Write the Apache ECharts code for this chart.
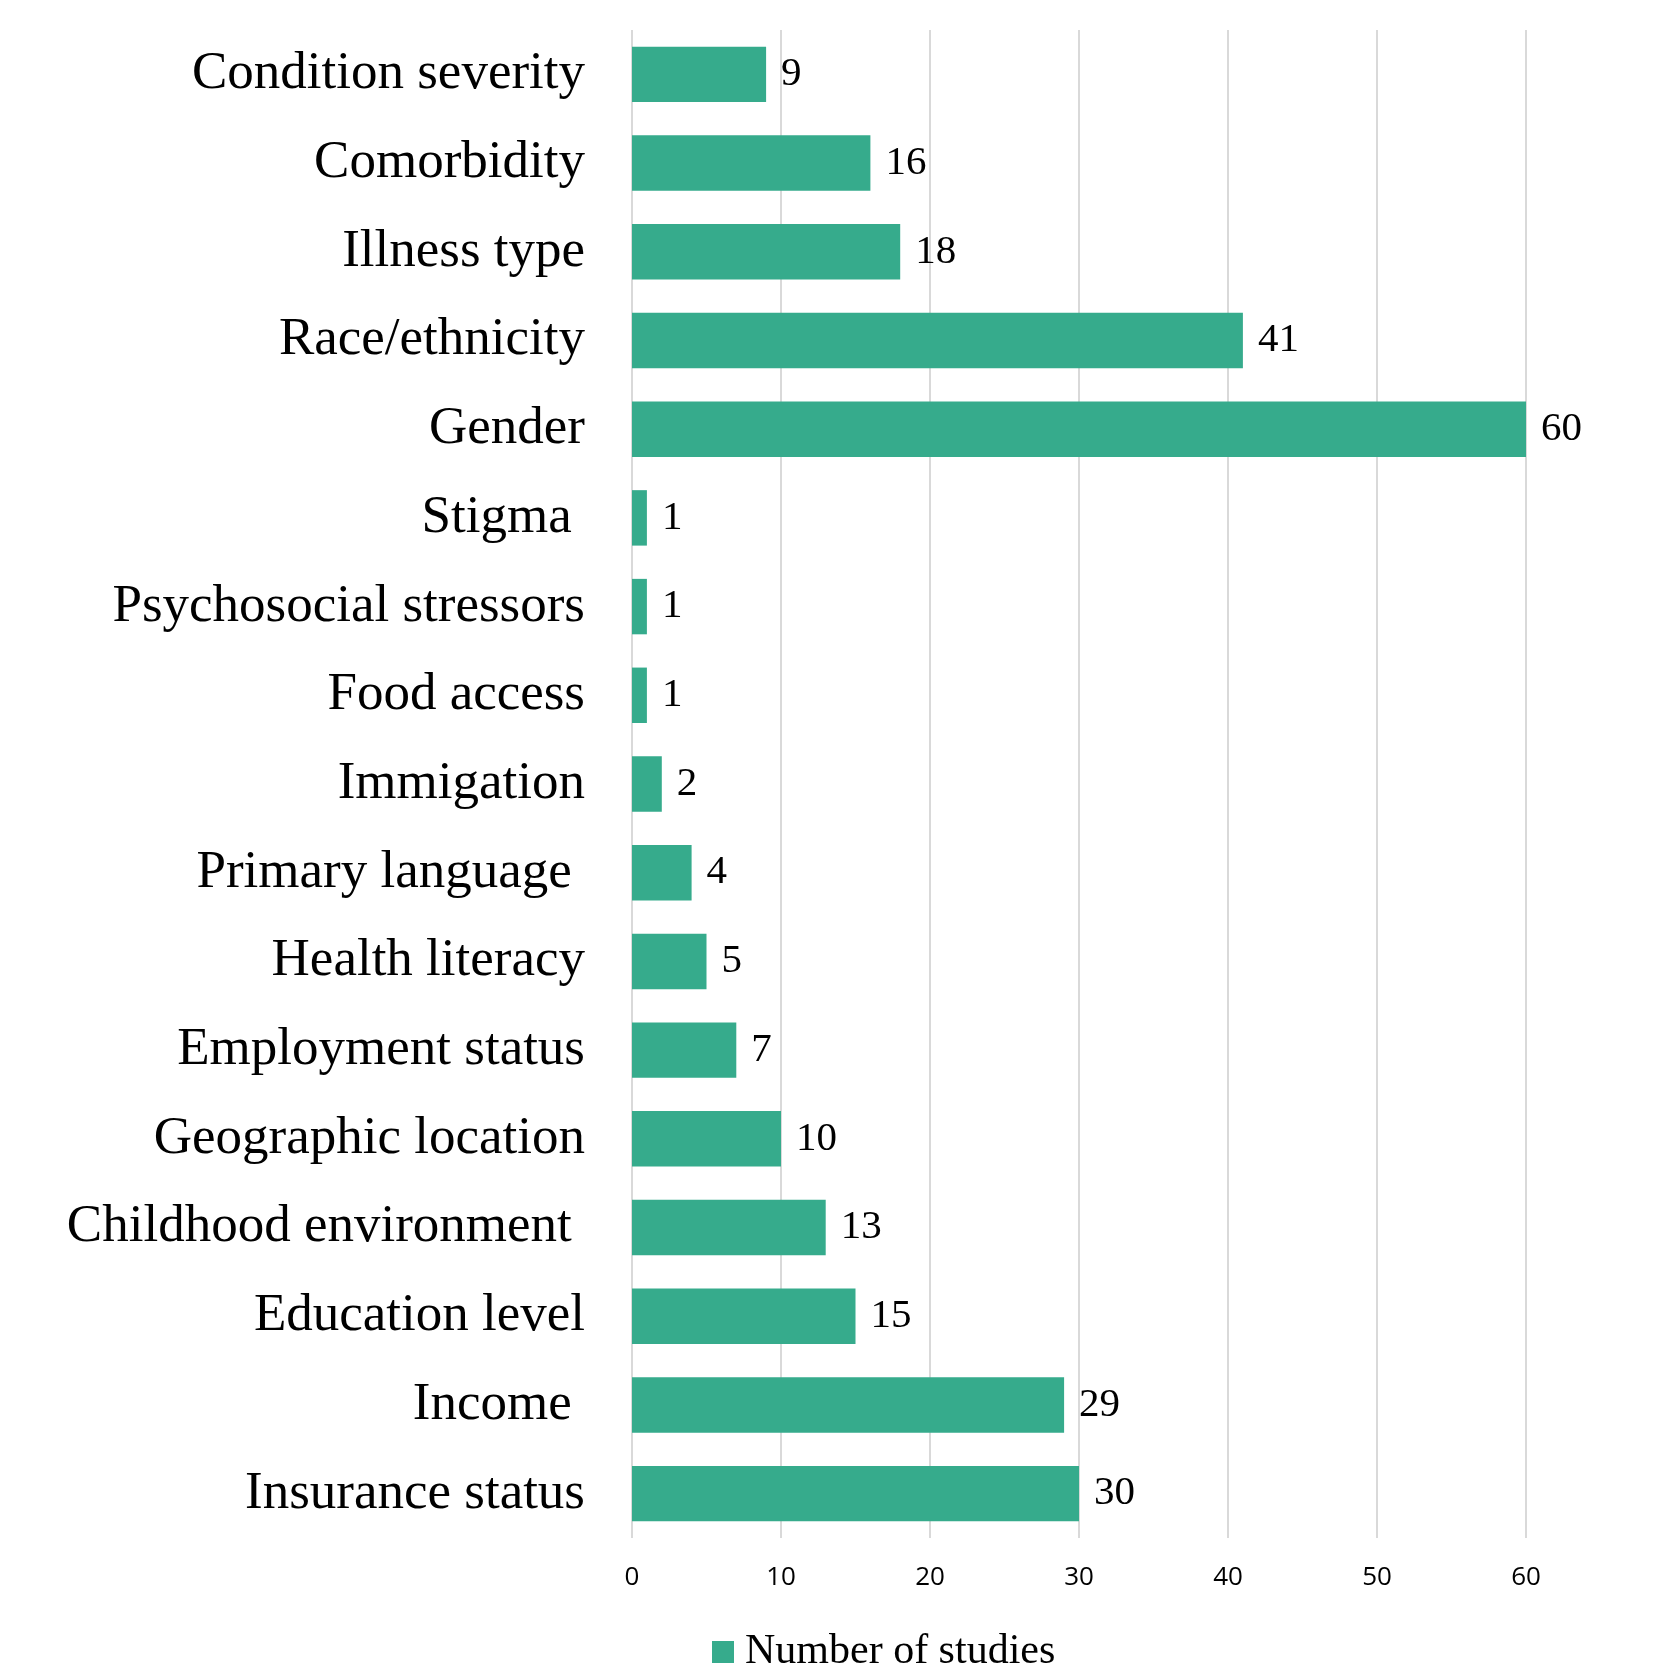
<!DOCTYPE html>
<html>
<head>
<meta charset="utf-8">
<script src="https://cdn.jsdelivr.net/npm/echarts@6/dist/echarts.min.js"></script>
<style>
html,body{margin:0;padding:0;background:#fff;}
#chart{width:1660px;height:1665px;}
</style>
</head>
<body>
<div id="chart"></div>
<script>
const categories = [
  "Condition severity", "Comorbidity", "Illness type", "Race/ethnicity", "Gender",
  "Stigma ", "Psychosocial stressors", "Food access", "Immigation", "Primary language ",
  "Health literacy", "Employment status", "Geographic location", "Childhood environment ",
  "Education level", "Income ", "Insurance status"
];
const studies = [9, 16, 18, 41, 60, 1, 1, 1, 2, 4, 5, 7, 10, 13, 15, 29, 30];
const seriesName = "Number of studies";
const xMin = 0, xMax = 70, xStep = 10;

const chart = echarts.init(document.getElementById('chart'), null, {renderer: 'canvas'});
chart.setOption({
  animation: false,
  backgroundColor: '#ffffff',
  grid: { left: 632, width: 1043, top: 30, height: 1508, containLabel: false, outerBoundsMode: 'none' },
  legend: {
    data: [seriesName],
    left: 707, top: 1626,
    itemWidth: 22, itemHeight: 22,
    icon: 'rect',
    textStyle: { fontFamily: 'Liberation Serif', fontSize: 42, color: '#000', padding: [0,0,0,6] }
  },
  xAxis: {
    type: 'value', min: xMin, max: xMax, interval: xStep,
    axisLine: { show: false }, axisTick: { show: false },
    splitLine: { show: true, lineStyle: { color: '#d9d9d9', width: 2 } },
    axisLabel: { fontFamily: 'Open Sans', fontSize: 26, color: '#000', margin: 27, showMaxLabel: true, hideOverlap: false }
  },
  yAxis: {
    type: 'category', data: categories, inverse: true,
    axisLine: { show: false }, axisTick: { show: false },
    axisLabel: { fontFamily: 'Liberation Serif', fontSize: 53, color: '#000', margin: 47 }
  },
  series: [{
    name: seriesName, type: 'bar', data: studies,
    barCategoryGap: '37.5%',
    itemStyle: { color: '#36ab8c' },
    label: { show: true, position: 'right', distance: 15,
      fontFamily: 'Liberation Serif', fontSize: 41, color: '#000' }
  }]
});
</script>
</body>
</html>
